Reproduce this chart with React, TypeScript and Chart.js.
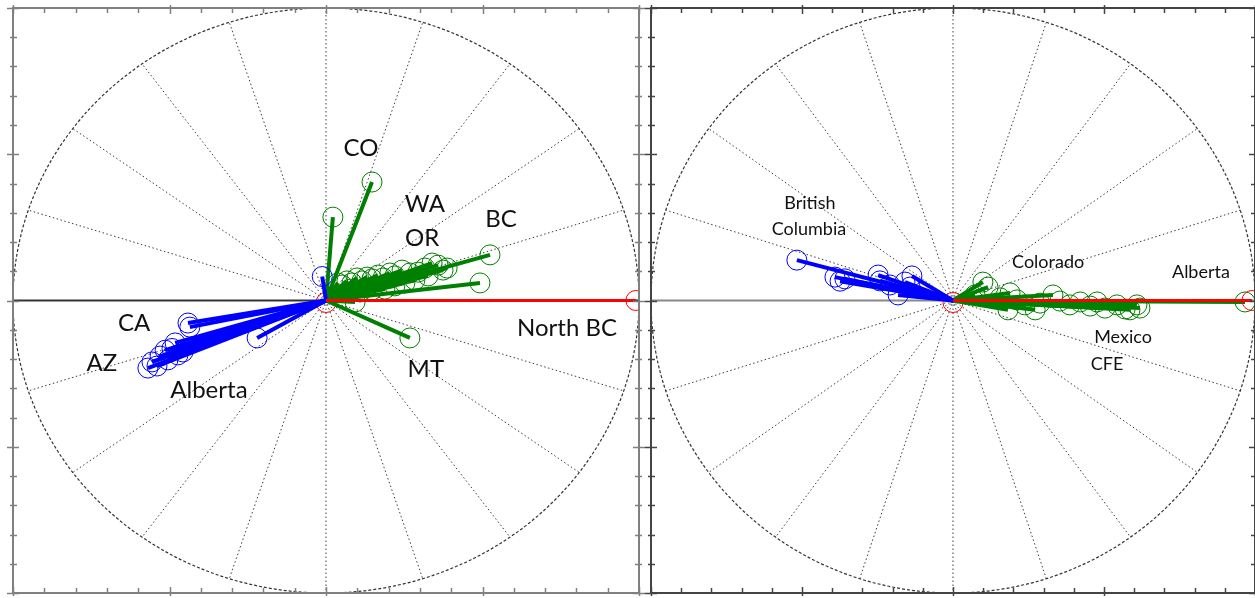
import React, { useEffect, useRef } from "react";
import { Chart, registerables } from "chart.js";

Chart.register(...registerables);

// ---- Left panel: loading vectors by state / region ----
const LEFT_BLUE_X = [-0.441, -0.435, -0.569, -0.556, -0.53, -0.514, -0.492, -0.473, -0.457, -0.505, -0.22, -0.482, -0.54, -0.012];
const LEFT_BLUE_Y = [-0.077, -0.091, -0.231, -0.21, -0.19, -0.17, -0.164, -0.186, -0.176, -0.203, -0.128, -0.145, -0.224, 0.082];

const LEFT_GREEN_X = [0.358, 0.387, 0.339, 0.374, 0.316, 0.294, 0.268, 0.243, 0.22, 0.204, 0.182, 0.166, 0.147, 0.131, 0.115, 0.099, 0.083, 0.067, 0.051, 0.038, 0.252, 0.22, 0.188, 0.147, 0.109, 0.284, 0.326, 0.077, 0.147, 0.022, 0.524, 0.492, 0.268, 0.093];
const LEFT_GREEN_Y = [0.121, 0.111, 0.128, 0.104, 0.111, 0.097, 0.094, 0.104, 0.084, 0.094, 0.077, 0.087, 0.074, 0.08, 0.067, 0.077, 0.06, 0.067, 0.053, 0.06, 0.06, 0.05, 0.039, 0.036, 0.029, 0.07, 0.084, 0.039, 0.405, 0.285, 0.156, 0.06, -0.128, -0.005];

const LEFT_RED_X = [0.99];
const LEFT_RED_Y = [0];

const LEFT_LABELS = ["CO", "WA", "OR", "BC", "North BC", "MT", "CA", "AZ", "Alberta"];
const LEFT_LABEL_X = [0.112, 0.316, 0.307, 0.559, 0.77, 0.319, -0.613, -0.716, -0.374];
const LEFT_LABEL_Y = [0.521, 0.33, 0.214, 0.279, -0.094, -0.234, -0.077, -0.214, -0.306];

// ---- Right panel ----
const RIGHT_BLUE_X = [-0.517, -0.391, -0.374, -0.358, -0.248, -0.242, -0.159, -0.142, -0.182, -0.136, -0.209];
const RIGHT_BLUE_Y = [0.138, 0.08, 0.066, 0.074, 0.087, 0.067, 0.063, 0.046, 0.019, 0.084, 0.053];

const RIGHT_GREEN_X = [0.116, 0.099, 0.073, 0.156, 0.189, 0.212, 0.238, 0.288, 0.331, 0.354, 0.387, 0.421, 0.454, 0.477, 0.503, 0.543, 0.57, 0.586, 0.609, 0.619, 0.272, 0.182, 0.967];
const RIGHT_GREEN_Y = [0.046, 0.063, 0.019, 0.009, 0.026, 0.002, -0.015, -0.009, 0.019, -0.002, -0.015, -0.005, -0.019, -0.005, -0.026, -0.015, -0.029, -0.032, -0.015, -0.026, -0.032, -0.032, -0.005];

const RIGHT_RED_X = [0.99];
const RIGHT_RED_Y = [0];

const RIGHT_LABELS = ["British", "Columbia", "Colorado", "Alberta", "Mexico", "CFE"];
const RIGHT_LABEL_X = [-0.474, -0.477, 0.315, 0.821, 0.563, 0.51];
const RIGHT_LABEL_Y = [0.333, 0.244, 0.132, 0.097, -0.125, -0.217];

const SPOKE_STEP = 18; // degrees between radial grid lines
const BLUE = "#0000ff";
const GREEN = "#008000";
const RED = "#ff0000";

type Vec = { x: number; y: number };

function zip(xs: number[], ys: number[]): Vec[] {
  return xs.map((x, i) => ({ x, y: ys[i] }));
}

// One line dataset per vector (origin -> tip), plus a ring marker set at the tips.
function vectorDatasets(tips: Vec[], color: string, width: number, order: number) {
  const lines = tips.map((t) => ({
    type: "scatter" as const,
    data: [{ x: 0, y: 0 }, t],
    showLine: true,
    borderColor: color,
    borderWidth: width,
    pointRadius: 0,
    order,
  }));
  const rings = {
    type: "scatter" as const,
    data: tips,
    showLine: false,
    pointStyle: "circle",
    pointRadius: 10,
    pointBorderWidth: 1,
    pointBorderColor: color,
    pointBackgroundColor: "rgba(0,0,0,0)",
    order: order + 1,
  };
  return [rings, ...lines];
}

const compassPlugin = {
  id: "compass",
  beforeDatasetsDraw(chart: any, _args: any, opts: any) {
    const { ctx, chartArea } = chart;
    const xs = chart.scales.x;
    const ys = chart.scales.y;
    const cx = xs.getPixelForValue(0);
    const cy = ys.getPixelForValue(0);
    const rx = xs.getPixelForValue(1) - cx;
    const ry = cy - ys.getPixelForValue(1);
    ctx.save();
    // radial dotted spokes
    ctx.strokeStyle = "rgba(40,40,40,0.9)";
    ctx.lineWidth = 1;
    ctx.setLineDash([1.5, 2.5]);
    for (let a = 0; a < 360; a += SPOKE_STEP) {
      if (a % 180 === 0) continue;
      const t = (a * Math.PI) / 180;
      ctx.beginPath();
      ctx.moveTo(cx, cy);
      ctx.lineTo(cx + rx * Math.cos(t), cy - ry * Math.sin(t));
      ctx.stroke();
    }
    // outer dashed ring
    ctx.setLineDash([3, 2]);
    ctx.strokeStyle = "#333";
    ctx.lineWidth = 1.2;
    ctx.beginPath();
    ctx.ellipse(cx, cy, rx, ry, 0, 0, Math.PI * 2);
    ctx.stroke();
    // horizontal axis
    ctx.setLineDash([]);
    ctx.strokeStyle = opts.axisColor;
    ctx.lineWidth = 2;
    ctx.beginPath();
    ctx.moveTo(chartArea.left, cy);
    ctx.lineTo(chartArea.right, cy);
    ctx.stroke();
    // origin marker
    ctx.strokeStyle = RED;
    ctx.lineWidth = 1;
    ctx.beginPath();
    ctx.arc(cx, cy + 2, 10, 0, Math.PI * 2);
    ctx.stroke();
    ctx.restore();
  },
  afterDatasetsDraw(chart: any, _args: any, opts: any) {
    const { ctx } = chart;
    const xs = chart.scales.x;
    const ys = chart.scales.y;
    ctx.save();
    ctx.fillStyle = "#111";
    ctx.font = `${opts.fontSize}px Lato, "Open Sans", sans-serif`;
    ctx.textAlign = "center";
    ctx.textBaseline = "middle";
    opts.labels.forEach((text: string, i: number) => {
      ctx.fillText(text, xs.getPixelForValue(opts.labelX[i]), ys.getPixelForValue(opts.labelY[i]));
    });
    ctx.restore();
  },
  afterDraw(chart: any, _args: any, opts: any) {
    const { ctx, chartArea } = chart;
    const { left, right, top, bottom } = chartArea;
    const xs = chart.scales.x;
    const ys = chart.scales.y;
    ctx.save();
    ctx.strokeStyle = opts.frameColor;
    ctx.lineWidth = 2;
    ctx.strokeRect(left, top, right - left, bottom - top);
    ctx.lineWidth = 1.5;
    const isMajor = (v: number) => Math.abs(v * 2 - Math.round(v * 2)) < 1e-6;
    xs.ticks.forEach((tk: any) => {
      const px = Math.round(xs.getPixelForValue(tk.value)) + 0.5;
      const m = isMajor(tk.value);
      const inLen = m ? 6 : 5;
      const outLen = m ? 3 : 0;
      ctx.beginPath();
      ctx.moveTo(px, top - outLen);
      ctx.lineTo(px, top + inLen);
      ctx.moveTo(px, bottom + outLen);
      ctx.lineTo(px, bottom - inLen);
      ctx.stroke();
    });
    ys.ticks.forEach((tk: any) => {
      const py = Math.round(ys.getPixelForValue(tk.value)) + 0.5;
      const m = isMajor(tk.value);
      const inLen = m ? 6 : 4;
      const outLen = m ? 6 : 3;
      ctx.beginPath();
      ctx.moveTo(left - outLen, py);
      ctx.lineTo(left + inLen, py);
      ctx.moveTo(right + outLen, py);
      ctx.lineTo(right - inLen, py);
      ctx.stroke();
    });
    ctx.restore();
  },
};

type PanelProps = {
  width: number;
  height: number;
  left: number;
  padding: { left: number; right: number; top: number; bottom: number };
  blue: Vec[];
  green: Vec[];
  red: Vec[];
  labels: string[];
  labelX: number[];
  labelY: number[];
  fontSize: number;
  axisColor: string;
  frameColor: string;
};

function CompassPanel(p: PanelProps) {
  const ref = useRef<HTMLCanvasElement | null>(null);
  useEffect(() => {
    if (!ref.current) return;
    const datasets: any[] = [
      ...vectorDatasets(p.red, RED, 3, 0),
      ...vectorDatasets(p.blue, BLUE, 4, 2),
      ...vectorDatasets(p.green, GREEN, 4, 4),
    ];
    const chart = new Chart(ref.current, {
      type: "scatter",
      data: { datasets },
      plugins: [compassPlugin],
      options: {
        animation: false,
        responsive: false,
        maintainAspectRatio: false,
        layout: { padding: p.padding, autoPadding: false },
        scales: {
          x: { type: "linear", min: -1, max: 1, display: false, ticks: { stepSize: 0.1 } },
          y: { type: "linear", min: -1, max: 1, display: false, ticks: { stepSize: 0.1 } },
        },
        plugins: {
          legend: { display: false },
          tooltip: { enabled: false },
          compass: {
            labels: p.labels,
            labelX: p.labelX,
            labelY: p.labelY,
            fontSize: p.fontSize,
            axisColor: p.axisColor,
            frameColor: p.frameColor,
          },
        } as any,
      } as any,
    });
    return () => chart.destroy();
  }, []);
  return (
    <canvas
      ref={ref}
      width={p.width}
      height={p.height}
      style={{ position: "absolute", left: p.left, top: 0, width: p.width, height: p.height }}
    />
  );
}

export default function App() {
  return (
    <div
      style={{
        position: "absolute",
        left: 0,
        top: 0,
        width: 1255,
        height: 598,
        overflow: "hidden",
        background: "#fff",
      }}
    >
      <CompassPanel
        width={645}
        height={598}
        left={0}
        padding={{ left: 13, right: 6, top: 8, bottom: 5 }}
        blue={zip(LEFT_BLUE_X, LEFT_BLUE_Y)}
        green={zip(LEFT_GREEN_X, LEFT_GREEN_Y)}
        red={zip(LEFT_RED_X, LEFT_RED_Y)}
        labels={LEFT_LABELS}
        labelX={LEFT_LABEL_X}
        labelY={LEFT_LABEL_Y}
        fontSize={24}
        axisColor="#333"
        frameColor="#808080"
      />
      <CompassPanel
        width={620}
        height={598}
        left={645}
        padding={{ left: 6, right: 10, top: 8, bottom: 5 }}
        blue={zip(RIGHT_BLUE_X, RIGHT_BLUE_Y)}
        green={zip(RIGHT_GREEN_X, RIGHT_GREEN_Y)}
        red={zip(RIGHT_RED_X, RIGHT_RED_Y)}
        labels={RIGHT_LABELS}
        labelX={RIGHT_LABEL_X}
        labelY={RIGHT_LABEL_Y}
        fontSize={18}
        axisColor="#888"
        frameColor="#444"
      />
    </div>
  );
}
